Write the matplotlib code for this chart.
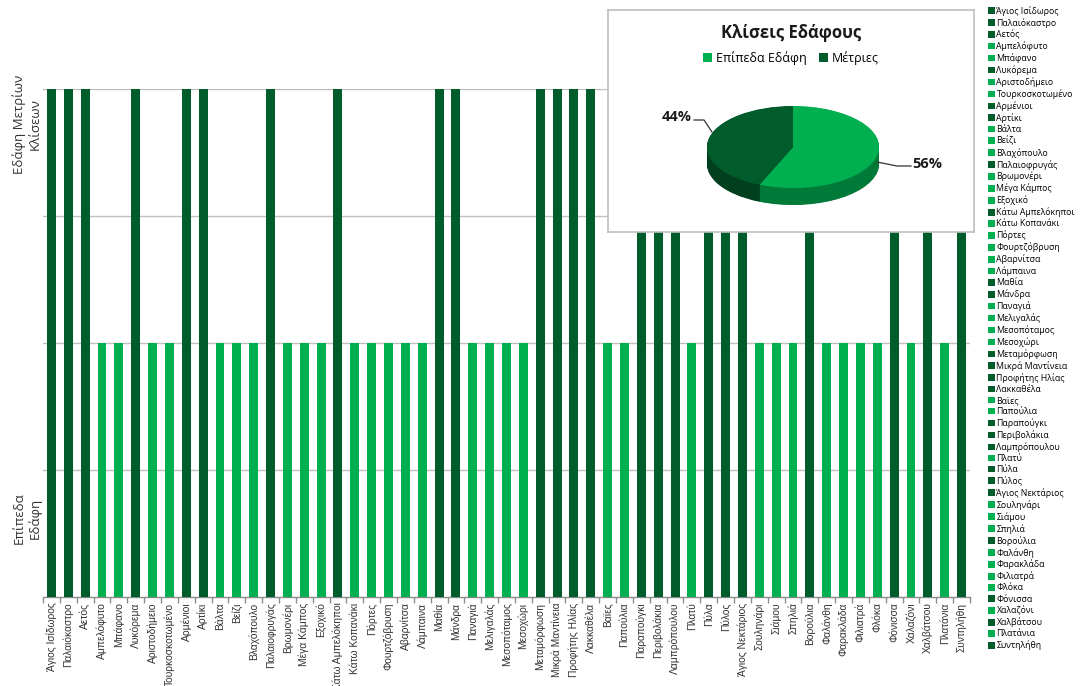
import matplotlib
matplotlib.use("Agg")
import matplotlib.pyplot as plt
from matplotlib.patches import Patch
import numpy as np

plt.rcParams['font.family'] = ['Open Sans', 'DejaVu Sans']

# Villages and their terrain slope class (1 = flat, 2 = moderate slopes)
villages = [
    "Άγιος Ισίδωρος", "Παλαιόκαστρο", "Αετός", "Αμπελόφυτο", "Μπάφανο",
    "Λυκόρεμα", "Αριστοδήμειο", "Τουρκοσκοτωμένο", "Αρμένιοι", "Αρτίκι",
    "Βάλτα", "Βείζι", "Βλαχόπουλο", "Παλαιοφρυγάς", "Βρωμονέρι",
    "Μέγα Κάμπος", "Εξοχικό", "Κάτω Αμπελόκηποι", "Κάτω Κοπανάκι", "Πόρτες",
    "Φουρτζόβρυση", "Αβαρνίτσα", "Λάμπαινα", "Μαθία", "Μάνδρα",
    "Παναγιά", "Μελιγαλάς", "Μεσοπόταμος", "Μεσοχώρι", "Μεταμόρφωση",
    "Μικρά Μαντίνεια", "Προφήτης Ηλίας", "Λακκαθέλα", "Βαϊες", "Παπούλια",
    "Παραπούγκι", "Περιβολάκια", "Λαμπρόπουλου", "Πλατύ", "Πύλα",
    "Πύλος", "Άγιος Νεκτάριος", "Σουληνάρι", "Σιάμου", "Σπηλιά",
    "Βορούλια", "Φαλάνθη", "Φαρακλάδα", "Φιλιατρά", "Φλόκα",
    "Φόνισσα", "Χαλαζόνι", "Χαλβάτσου", "Πλατάνια", "Συντηλήθη",
]
slope_class = [
    2, 2, 2, 1, 1, 2, 1, 1, 2, 2,
    1, 1, 1, 2, 1, 1, 1, 2, 1, 1,
    1, 1, 1, 2, 2, 1, 1, 1, 1, 2,
    2, 2, 2, 1, 1, 2, 2, 2, 1, 2,
    2, 2, 1, 1, 1, 2, 1, 1, 1, 1,
    2, 1, 2, 1, 2,
]
class_names = ["Επίπεδα Εδάφη", "Μέτριες"]
axis_labels = ["Επίπεδα\nΕδάφη", "Εδάφη Μετρίων\nΚλίσεων"]
chart_title = "Κλίσεις Εδάφους"

LIGHT = "#00B050"
DARK = "#005C2B"
LIGHT_SIDE = "#007A38"
DARK_SIDE = "#00401E"
class_colors = {1: LIGHT, 2: DARK}

W, H = 1080, 686
fig = plt.figure(figsize=(W / 100, H / 100), dpi=100)


def fig_rect(x0, y0, x1, y1):
    """Pixel box (top-left origin) -> figure fraction rect."""
    return [x0 / W, 1 - y1 / H, (x1 - x0) / W, (y1 - y0) / H]


# ---- main bar chart ----
ax = fig.add_axes(fig_rect(43, 89, 970, 597))
x = np.arange(len(villages))
colors = [class_colors[c] for c in slope_class]
ax.bar(x, slope_class, width=0.53, color=colors, zorder=3)
ax.set_xlim(-0.5, len(villages) - 0.5)
ax.set_ylim(0, 2)
ax.set_yticks([0.5, 1.0, 1.5, 2.0])
ax.yaxis.grid(True, color="#BFBFBF", linewidth=1.0, zorder=0)
ax.tick_params(axis="y", length=0, labelleft=False)
for s in ("top", "right", "left"):
    ax.spines[s].set_visible(False)
ax.spines["bottom"].set_color("#8C8C8C")
ax.spines["bottom"].set_linewidth(1.0)
ax.set_xticks(x)
ax.set_xticklabels(villages, rotation=90, fontsize=7.4, color="#333333",
                   family=["Liberation Sans Narrow", "Liberation Sans"])
ax.tick_params(axis="x", length=0, pad=4)
ax.set_xticks(np.arange(-0.5, len(villages), 1.0), minor=True)
ax.tick_params(axis="x", which="minor", length=4, color="#8C8C8C", width=1)

# class labels along the value axis
ylab_x = (27 - 43) / 927
ax.text(ylab_x, 0.31, axis_labels[0], transform=ax.get_yaxis_transform(),
        rotation=90, ha="center", va="center", fontsize=9.5,
        multialignment="center", color="#333333")
ax.text(ylab_x, 1.86, axis_labels[1], transform=ax.get_yaxis_transform(),
        rotation=90, ha="center", va="center", fontsize=9.5,
        multialignment="center", color="#333333")

# ---- per-village legend on the right ----
handles = [Patch(facecolor=class_colors[c], edgecolor="none") for c in slope_class]
fig.legend(handles, villages, loc="upper left",
           bbox_to_anchor=(986 / W, 1 - 4 / H), frameon=False,
           fontsize=6.3, handlelength=0.8, handleheight=0.8,
           handletextpad=0.2, labelspacing=0.24, borderaxespad=0,
           borderpad=0.2)

# ---- pie inset ----
bx = fig.add_axes(fig_rect(608, 10, 974, 232))
bx.set_xticks([])
bx.set_yticks([])
for s in bx.spines.values():
    s.set_color("#BFBFBF")
    s.set_linewidth(1.2)
bx.set_zorder(5)
bx.set_facecolor("white")
bx.text(0.5, 0.895, chart_title, transform=bx.transAxes, ha="center",
        va="center", fontsize=12, fontweight="bold", color="#1a1a1a")

pie_counts = [slope_class.count(1), slope_class.count(2)]
bx.legend([Patch(facecolor=LIGHT), Patch(facecolor=DARK)], class_names,
          loc="center", bbox_to_anchor=(0.5, 0.785), ncol=2,
          frameon=False, fontsize=9, handlelength=0.7,
          handleheight=0.7, handletextpad=0.3, columnspacing=1.0)

cx, cy, rx, ry, depth = 793, 147, 86, 41, 17
pa = fig.add_axes(fig_rect(cx - 130, cy - 75, cx + 130, cy + 75))
pa.set_zorder(6)

# side walls: stacked copies shifted downward
for d in np.linspace(depth / ry, 0, 40, endpoint=False):
    pa.pie(pie_counts, colors=[LIGHT_SIDE, DARK_SIDE], startangle=90,
           counterclock=False, center=(0, -d), radius=1,
           wedgeprops=dict(linewidth=0), frame=True)
pa.pie(pie_counts, colors=[LIGHT, DARK], startangle=90,
       counterclock=False, center=(0, 0), radius=1,
       wedgeprops=dict(linewidth=0), frame=True)
# stretch the unit circle into a flat ellipse
pa.set_aspect("auto")
pa.set_xlim(-130 / rx, 130 / rx)
pa.set_ylim(-75 / ry, 75 / ry)
pa.set_xticks([])
pa.set_yticks([])
pa.patch.set_alpha(0)
for s in pa.spines.values():
    s.set_visible(False)

total = sum(pie_counts)
pcts = [round(100 * c / total) for c in pie_counts]


def px(xp, yp):
    """Pixel position -> pie data coordinates."""
    return (xp - cx) / rx, (cy - yp) / ry


# percentage labels with leader lines
lx, ly = px(927, 164)
pa.text(lx, ly, f"{pcts[0]}%", fontsize=10.5, fontweight="bold",
        ha="center", va="center", color="#1a1a1a")
pts = [px(877, 162), px(897, 166), px(911, 166)]
pa.plot([p[0] for p in pts], [p[1] for p in pts], color="#333333", lw=0.9,
        clip_on=False)

lx, ly = px(677, 117)
pa.text(lx, ly, f"{pcts[1]}%", fontsize=10.5, fontweight="bold",
        ha="center", va="center", color="#1a1a1a")
pts = [px(694, 120), px(704, 120), px(712, 132)]
pa.plot([p[0] for p in pts], [p[1] for p in pts], color="#333333", lw=0.9,
        clip_on=False)

fig.savefig("out.png", dpi=100)
